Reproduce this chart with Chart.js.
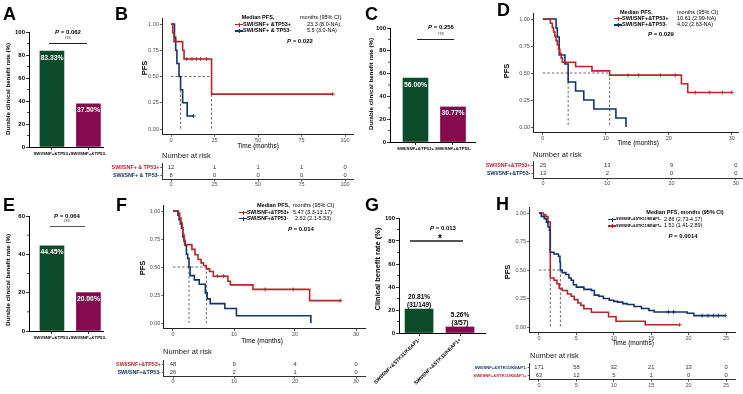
<!DOCTYPE html>
<html>
<head>
<meta charset="utf-8">
<script src="https://cdn.jsdelivr.net/npm/chart.js@4.4.1/dist/chart.umd.min.js"></script>
<style>
  body { margin: 0; background: #fff; }
  #fig { position: relative; width: 743px; height: 394px; overflow: hidden; font-family: "Liberation Sans", Arial, sans-serif; }
</style>
</head>
<body>
<div id="fig"></div>
<script>
'use strict';

// ---- bar panels (A, C, E, G) ----
const tp53Cats = ['SWI/SNF+&TP53+', 'SWI/SNF+&TP53-'];
const aRates = [83.33, 37.50];
const cRates = [56.00, 30.77];
const eRates = [44.45, 20.00];
const stkCats = ['SWI/SNF+&STK11/KEAP1-', 'SWI/SNF+&STK11/KEAP1+'];
const gRates = [20.81, 5.26];
const gCounts = ['(31/149)', '(3/57)'];

// ---- B: KM, time / survival step points ----
const bPosT = [0, 1, 1.7, 6.7, 7.5, 23.3, 93];
const bPosS = [1, 0.917, 0.833, 0.75, 0.667, 0.333, 0.333];
const bPosCens = [9, 12, 14.5, 17, 20.5, 93];
const bNegT = [0, 2.0, 2.7, 3.4, 4.6, 5.5, 6.7, 9.3, 12.9];
const bNegS = [1, 0.875, 0.75, 0.625, 0.5, 0.375, 0.25, 0.125, 0.125];
const bNegCens = [12.9];
const bMedians = [23.3, 5.5];
const bRiskTimes = [0, 25, 50, 75, 100];
const bRiskPos = [12, 1, 1, 1, 0];
const bRiskNeg = [8, 0, 0, 0, 0];

// ---- D ----
const dPosT = [0, 1.2, 1.5, 1.7, 1.9, 2.1, 2.3, 2.5, 2.7, 2.9, 3.1, 5.2, 7.8, 10.61, 22.0, 23.0, 30];
const dPosS = [1, 0.96, 0.92, 0.88, 0.84, 0.80, 0.76, 0.72, 0.68, 0.64, 0.60, 0.56, 0.52, 0.48, 0.40, 0.32, 0.32];
const dPosCens = [13.5, 15.2, 18.7, 21.0, 24.2, 26.5, 28.5, 30];
const dNegT = [0, 2.1, 2.3, 2.6, 3.5, 4.02, 5.2, 6.5, 8.1, 11.6, 13.2];
const dNegS = [1, 0.917, 0.833, 0.667, 0.583, 0.417, 0.333, 0.25, 0.167, 0.083, 0];
const dNegCens = [];
const dMedians = [10.61, 4.02];
const dRiskTimes = [0, 10, 20, 30];
const dRiskPos = [25, 13, 9, 0];
const dRiskNeg = [13, 2, 0, 0];

// ---- F ----
const fPosT = [0, 0.9, 1.1, 1.3, 1.5, 1.6, 1.8, 1.9, 3.1, 3.6, 4.1, 4.6, 5.0, 5.47, 6.0, 6.6, 9.0, 9.4, 13.1, 22.4, 27.6];
const fPosS = [1, 0.979, 0.938, 0.896, 0.854, 0.792, 0.75, 0.70, 0.657, 0.61, 0.567, 0.537, 0.513, 0.483, 0.46, 0.418, 0.373, 0.34, 0.30, 0.20, 0.20];
const fPosCens = [7.3, 8.3, 15.1, 19.7, 27.4];
const fNegT = [0, 0.8, 1.0, 1.2, 1.4, 1.6, 1.8, 2.0, 2.2, 2.4, 2.62, 2.8, 3.5, 4.3, 5.3, 5.6, 6.1, 8.5, 10.4, 22.6];
const fNegS = [1, 0.962, 0.923, 0.885, 0.846, 0.769, 0.731, 0.692, 0.615, 0.577, 0.50, 0.423, 0.385, 0.346, 0.269, 0.215, 0.173, 0.13, 0.065, 0];
const fNegCens = [];
const fMedians = [5.47, 2.62];
const fRiskTimes = [0, 10, 20, 30];
const fRiskPos = [48, 9, 4, 0];
const fRiskNeg = [26, 2, 1, 0];

// ---- H ----
const hNegT = [0, 0.3, 0.7, 1.0, 1.2, 1.4, 1.5, 2.0, 2.6, 2.8, 2.86, 3.1, 3.6, 4.0, 4.3, 4.6, 5.0, 6.0, 7.0, 7.4, 8.0, 8.6, 9.4, 10.0, 10.5, 11.2, 11.8, 12.7, 13.7, 14.7, 15.4, 19.8, 20.7, 24.9];
const hNegS = [1, 0.97, 0.95, 0.92, 0.88, 0.85, 0.656, 0.64, 0.62, 0.57, 0.50, 0.477, 0.46, 0.43, 0.41, 0.37, 0.35, 0.33, 0.32, 0.28, 0.27, 0.25, 0.235, 0.225, 0.218, 0.205, 0.197, 0.18, 0.162, 0.145, 0.132, 0.12, 0.10, 0.10];
const hNegCens = [17.3, 18.0, 21.8, 22.6, 23.3, 24.0, 24.9];
const hPosT = [0, 0.6, 0.9, 1.2, 1.51, 2.0, 2.4, 2.7, 3.1, 3.8, 4.3, 4.7, 5.2, 5.6, 6.0, 7.0, 9.3, 10.3, 14.2, 18.8];
const hPosS = [1, 0.984, 0.968, 0.92, 0.43, 0.41, 0.38, 0.34, 0.32, 0.29, 0.27, 0.24, 0.21, 0.19, 0.16, 0.13, 0.09, 0.05, 0.02, 0.02];
const hPosCens = [18.8];
const hMedians = [2.86, 1.51];
const hRiskTimes = [0, 5, 10, 15, 20, 25];
const hRiskNeg = [171, 58, 32, 21, 13, 0];
const hRiskPos = [63, 12, 5, 1, 0, 0];

const RED = '#b5262b';
const BLUE = '#13336a';
const GREEN = '#0b4a2b';
const MAGENTA = '#85094d';

Chart.defaults.font.family = '"Liberation Sans", Arial, sans-serif';

const fig = document.getElementById('fig');

function el(css, html) {
  const e = document.createElement('div');
  e.style.cssText = 'position:absolute;' + css;
  if (html != null) e.innerHTML = html;
  fig.appendChild(e);
  return e;
}

// y is the text baseline
function txt(x, y, html, o) {
  o = o || {};
  const fs = o.size || 6;
  const ax = o.align === 'center' ? '-50%' : o.align === 'right' ? '-100%' : '0';
  return el(`left:${x}px;top:${y - 0.847 * fs}px;font-size:${fs}px;line-height:1;white-space:nowrap;` +
    `font-weight:${o.bold ? 'bold' : 'normal'};color:${o.color || '#000'};transform:translateX(${ax});`, html);
}

function vtxt(cx, cy, html, o) {
  return el(`left:${cx}px;top:${cy}px;font-size:${o.size}px;line-height:1;white-space:nowrap;` +
    `font-weight:${o.bold ? 'bold' : 'normal'};color:#000;transform:translate(-50%,-50%) rotate(-90deg);`, html);
}

function hline(x1, x2, y, w, color) {
  el(`left:${x1}px;top:${y - w / 2}px;width:${x2 - x1}px;height:${w}px;background:${color};`);
}

function legMark(x, y, color) {
  hline(x, x + 8, y, 1.3, color);
  el(`left:${x + 3.5}px;top:${y - 2}px;width:1px;height:4px;background:${color};`);
}

function addCanvas(b) {
  const w = b.r - b.l, h = b.b - b.t;
  const wrap = el(`left:${b.l}px;top:${b.t}px;width:${w}px;height:${h}px;`);
  const c = document.createElement('canvas');
  c.width = w; c.height = h;
  c.style.width = w + 'px'; c.style.height = h + 'px';
  wrap.appendChild(c);
  return c;
}

function pad(b, a) {
  return { top: a.t - b.t, right: b.r - a.r, left: 0, bottom: 0 };
}

function fixedTicks(vals) {
  return s => { s.ticks = vals.map(v => ({ value: v })); };
}

function survAt(t, s, x) {
  let v = s[0];
  for (let i = 0; i < t.length; i++) if (t[i] <= x) v = s[i];
  return v;
}

const tickGrid = { display: true, drawOnChartArea: false, drawTicks: true, tickLength: 2.5, tickWidth: 0.8, color: '#333' };

// ---------- bar charts ----------
function barChart(box, area, xMin, xMax, cats, vals, yMax, majors, minors, opts) {
  const c = addCanvas(box);
  new Chart(c, {
    type: 'bar',
    data: {
      datasets: [{
        data: vals.map((v, i) => ({ x: i, y: v })),
        backgroundColor: [GREEN, MAGENTA],
        barThickness: opts.thickness
      }]
    },
    options: {
      responsive: false,
      animation: false,
      layout: { padding: pad(box, area) },
      plugins: { legend: { display: false }, tooltip: { enabled: false } },
      scales: {
        x: {
          type: 'linear', min: xMin, max: xMax, offset: false,
          afterBuildTicks: fixedTicks(cats.map((_, i) => i)),
          afterFit: s => { s.height = box.b - area.b; },
          grid: Object.assign({}, tickGrid, { offset: false, color: '#000', tickLength: 3 }),
          border: { display: true, color: '#000', width: 1 },
          ticks: {
            callback: v => cats[v], color: '#000', padding: 1,
            font: { size: opts.catSize, weight: 'bold' },
            minRotation: opts.rot, maxRotation: opts.rot, autoSkip: false
          }
        },
        y: {
          min: 0, max: yMax,
          afterBuildTicks: fixedTicks(majors),
          afterFit: s => { s.width = area.l - box.l; },
          grid: Object.assign({}, tickGrid, { color: '#000', tickLength: 3 }),
          border: { display: true, color: '#000', width: 1 },
          ticks: { color: '#000', padding: 1, font: { size: 6, weight: 'bold' } }
        }
      }
    },
    plugins: [{
      id: 'barLabels',
      afterDatasetsDraw(chart) {
        const ctx = chart.ctx, y = chart.scales.y;
        ctx.save();
        ctx.strokeStyle = '#000';
        ctx.lineWidth = 0.8;
        minors.forEach(v => {
          const py = y.getPixelForValue(v);
          ctx.beginPath(); ctx.moveTo(y.right - 1.8, py); ctx.lineTo(y.right, py); ctx.stroke();
        });
        ctx.textAlign = 'center';
        chart.getDatasetMeta(0).data.forEach((bar, i) => {
          if (opts.inside) {
            ctx.fillStyle = '#fff';
            ctx.font = 'bold 6.8px "Liberation Sans", Arial, sans-serif';
            ctx.fillText(vals[i].toFixed(2) + '%', bar.x, bar.y + 8.5);
          } else {
            ctx.fillStyle = '#000';
            ctx.font = 'bold 6.5px "Liberation Sans", Arial, sans-serif';
            ctx.fillText(vals[i].toFixed(2) + '%', bar.x, bar.y - 10);
            ctx.fillText(gCounts[i], bar.x, bar.y - 2);
          }
        });
        ctx.restore();
      }
    }]
  });
}

// ---------- KM charts ----------
function kmChart(box, area, xMin, xMax, xTicks, groups, medians) {
  const datasets = [];
  groups.forEach(g => {
    datasets.push({
      data: g.t.map((x, i) => ({ x, y: g.s[i] })),
      stepped: true, borderColor: g.color, borderWidth: 1.6, pointRadius: 0, order: 1
    });
    datasets.push({
      data: g.cens.map(x => ({ x, y: survAt(g.t, g.s, x) })),
      showLine: false, pointStyle: 'cross', pointRadius: 2, pointBorderWidth: 0.9,
      borderColor: g.color, backgroundColor: g.color, order: 0
    });
  });
  const md = [{ x: 0, y: 0.5 }, { x: Math.max(...medians), y: 0.5 }];
  medians.forEach(m => md.push({ x: m, y: null }, { x: m, y: 0.5 }, { x: m, y: 0 }));
  datasets.push({ data: md, borderColor: '#444', borderWidth: 0.8, borderDash: [2.5, 2], pointRadius: 0, order: 2 });

  new Chart(addCanvas(box), {
    type: 'line',
    data: { datasets },
    options: {
      responsive: false,
      animation: false,
      layout: { padding: pad(box, area) },
      plugins: { legend: { display: false }, tooltip: { enabled: false } },
      scales: {
        x: {
          type: 'linear', min: xMin, max: xMax,
          afterBuildTicks: fixedTicks(xTicks),
          afterFit: s => { s.height = box.b - area.b; },
          grid: tickGrid,
          border: { display: true, color: '#222', width: 1 },
          ticks: { color: '#4d4d4d', padding: 0, maxRotation: 0, font: { size: 5.5 }, callback: v => String(v) }
        },
        y: {
          type: 'linear', min: -0.05, max: 1.05,
          afterBuildTicks: fixedTicks([0, 0.25, 0.5, 0.75, 1]),
          afterFit: s => { s.width = area.l - box.l; },
          grid: tickGrid,
          border: { display: true, color: '#222', width: 1 },
          ticks: { color: '#4d4d4d', padding: 1, font: { size: 5.5 }, callback: v => v.toFixed(2) }
        }
      }
    }
  });
}

// risk table: rows on a reversed linear y axis (row 0 on top)
function riskChart(box, area, xMin, xMax, times, rows, labelSize) {
  new Chart(addCanvas(box), {
    type: 'line',
    data: { datasets: [] },
    options: {
      responsive: false,
      animation: false,
      layout: { padding: pad(box, area) },
      plugins: { legend: { display: false }, tooltip: { enabled: false } },
      scales: {
        x: {
          type: 'linear', min: xMin, max: xMax,
          afterBuildTicks: fixedTicks(times),
          afterFit: s => { s.height = box.b - area.b; },
          grid: Object.assign({}, tickGrid, { tickLength: 2 }),
          border: { display: true, color: '#333', width: 1 },
          ticks: { color: '#4d4d4d', padding: 0, maxRotation: 0, font: { size: 5.5 }, callback: v => String(v) }
        },
        y: {
          type: 'linear', min: -0.5, max: rows.length - 0.5, reverse: true,
          afterBuildTicks: fixedTicks(rows.map((_, i) => i)),
          afterFit: s => { s.width = area.l - box.l; },
          grid: Object.assign({}, tickGrid, { tickLength: 2 }),
          border: { display: true, color: '#333', width: 1 },
          ticks: {
            padding: 1, callback: v => rows[v].label,
            color: c => rows[c.index].color, font: { size: labelSize, weight: 'bold' }
          }
        }
      }
    },
    plugins: [{
      id: 'riskNumbers',
      afterDraw(chart) {
        const { ctx, scales: { x, y } } = chart;
        ctx.save();
        ctx.fillStyle = '#333';
        ctx.font = '5.8px "Liberation Sans", Arial, sans-serif';
        ctx.textAlign = 'center';
        ctx.textBaseline = 'middle';
        rows.forEach((r, i) => r.counts.forEach((n, j) => {
          ctx.fillText(String(n), x.getPixelForValue(times[j]), y.getPixelForValue(i));
        }));
        ctx.restore();
      }
    }]
  });
}

// ---------- A ----------
barChart({ l: 8, t: 20, r: 112, b: 166 }, { l: 29, t: 32, r: 103, b: 147 }, -0.63, 1.4,
  tp53Cats, aRates, 100, [0, 20, 40, 60, 80, 100], [10, 30, 50, 70, 90],
  { thickness: 24, catSize: 4.4, rot: 0, inside: true });
txt(3, 20, 'A', { size: 18, bold: true });
vtxt(8, 89, 'Durable clinical benefit rate (%)', { size: 6.2, bold: true });
txt(68, 34, '<i>P</i> = 0.062', { size: 6, bold: true, align: 'center' });
txt(68, 39.5, 'ns', { size: 5, align: 'center', color: '#444' });
hline(49, 87, 43, 0.9, '#222');

// ---------- C ----------
barChart({ l: 372, t: 16, r: 490, b: 162 }, { l: 390, t: 28, r: 475, b: 142 }, -0.68, 1.587,
  tp53Cats, cRates, 100, [0, 20, 40, 60, 80, 100], [10, 30, 50, 70, 90],
  { thickness: 25, catSize: 4.4, rot: 0, inside: true });
txt(365, 20, 'C', { size: 18, bold: true });
vtxt(371, 84, 'Durable clinical benefit rate (%)', { size: 6.2, bold: true });
txt(441, 29.5, '<i>P</i> = 0.256', { size: 6, bold: true, align: 'center' });
txt(441, 35, 'ns', { size: 5, align: 'center', color: '#444' });
hline(417, 454, 39, 0.9, '#222');

// ---------- E ----------
barChart({ l: 8, t: 205, r: 112, b: 350 }, { l: 29, t: 216, r: 103, b: 331 }, -0.63, 1.4,
  tp53Cats, eRates, 60, [0, 20, 40, 60], [10, 30, 50],
  { thickness: 24, catSize: 4.4, rot: 0, inside: true });
txt(3, 211, 'E', { size: 18, bold: true });
vtxt(8, 280, 'Durable clinical benefit rate (%)', { size: 6.2, bold: true });
txt(67, 218, '<i>P</i> = 0.064', { size: 6, bold: true, align: 'center' });
txt(67, 222, 'ns', { size: 5, align: 'center', color: '#444' });
hline(50, 85, 226, 0.9, '#555');

// ---------- G ----------
barChart({ l: 355, t: 210, r: 500, b: 394 }, { l: 399, t: 218, r: 485, b: 333 }, -0.49, 1.61,
  stkCats, gRates, 100, [0, 20, 40, 60, 80, 100], [10, 30, 50, 70, 90],
  { thickness: 28, catSize: 5, rot: 45, inside: false });
txt(365, 211, 'G', { size: 18, bold: true });
vtxt(378, 269, 'Clinical benefit rate (%)', { size: 7.5, bold: true });
txt(443, 230, '<i>P</i> = 0.013', { size: 6, bold: true, align: 'center' });
txt(440, 242, '*', { size: 10, bold: true, align: 'center' });
hline(410, 463, 241, 1.2, '#555');

// ---------- B ----------
const bArea = { l: 162.3, t: 18.8, r: 353.7, b: 134.3 };
kmChart({ l: 128, t: 10, r: 362, b: 152 }, bArea, -5, 105, bRiskTimes, [
  { t: bPosT, s: bPosS, cens: bPosCens, color: RED },
  { t: bNegT, s: bNegS, cens: bNegCens, color: BLUE }
], bMedians);
riskChart({ l: 95, t: 159, r: 362, b: 192 }, { l: bArea.l, t: 162.5, r: bArea.r, b: 179.5 }, -5, 105, bRiskTimes, [
  { label: 'SWI/SNF+ & TP53+', color: RED, counts: bRiskPos },
  { label: 'SWI/SNF+ & TP53-', color: BLUE, counts: bRiskNeg }
], 5.3);
txt(115, 20, 'B', { size: 18, bold: true });
vtxt(145, 68, 'PFS', { size: 7.5, bold: true });
txt(258, 148.5, 'Time (months)', { size: 6.5, align: 'center' });
txt(162, 158, 'Number at risk', { size: 7.5, color: '#222' });
txt(258, 20, 'Median PFS,', { size: 5.5, bold: true, align: 'center' });
txt(300, 20, 'months (95% CI)', { size: 5.5 });
legMark(235, 24.5, RED);
txt(243, 26.5, 'SWI/SNF+ &amp;TP53+', { size: 5.5, bold: true });
txt(307, 26.5, '23.3 (8.0-NA)', { size: 5.5 });
legMark(235, 31, BLUE);
txt(243, 33, 'SWI/SNF+ &amp; TP53-', { size: 5.5, bold: true });
txt(307, 33, '5.5 (3.0-NA)', { size: 5.5 });
txt(287, 43, '<i>P</i> = 0.022', { size: 6, bold: true });

// ---------- D ----------
const dArea = { l: 533.4, t: 13.6, r: 742.3, b: 132.4 };
kmChart({ l: 500, t: 5, r: 743, b: 150 }, dArea, -1.5, 31, dRiskTimes, [
  { t: dPosT, s: dPosS, cens: dPosCens, color: RED },
  { t: dNegT, s: dNegS, cens: dNegCens, color: BLUE }
], dMedians);
riskChart({ l: 465, t: 157, r: 743, b: 192 }, { l: dArea.l, t: 159.5, r: dArea.r, b: 178 }, -1.5, 31, dRiskTimes, [
  { label: 'SWI/SNF+&TP53+', color: RED, counts: dRiskPos },
  { label: 'SWI/SNF+&TP53-', color: BLUE, counts: dRiskNeg }
], 5.3);
txt(497, 16, 'D', { size: 18, bold: true });
vtxt(507, 71, 'PFS', { size: 7.5, bold: true });
txt(638, 145.5, 'Time (months)', { size: 6.5, align: 'center' });
txt(533, 157, 'Number at risk', { size: 7.5, color: '#222' });
txt(620, 15, 'Median PFS,', { size: 5.5, bold: true });
txt(677, 15, 'months (95% CI)', { size: 5.5 });
legMark(614, 18.5, RED);
txt(622, 20.5, 'SWI/SNF+&amp;TP53+', { size: 5.5, bold: true });
txt(677, 20.5, '10.61 (2.99-NA)', { size: 5.5 });
legMark(614, 25, BLUE);
txt(622, 27, 'SWI/SNF+&amp;TP53-', { size: 5.5, bold: true });
txt(677, 27, '4.02 (2.63-NA)', { size: 5.5 });
txt(648, 36.5, '<i>P</i> = 0.029', { size: 6, bold: true });

// ---------- F ----------
const fArea = { l: 163.85, t: 205.4, r: 365.15, b: 328.6 };
kmChart({ l: 128, t: 198, r: 372, b: 346 }, fArea, -1.5, 31.5, fRiskTimes, [
  { t: fPosT, s: fPosS, cens: fPosCens, color: RED },
  { t: fNegT, s: fNegS, cens: fNegCens, color: BLUE }
], fMedians);
riskChart({ l: 95, t: 356, r: 372, b: 390 }, { l: fArea.l, t: 358.5, r: fArea.r, b: 376.5 }, -1.5, 31.5, fRiskTimes, [
  { label: 'SWI/SNF+&TP53+', color: RED, counts: fRiskPos },
  { label: 'SWI/SNF+&TP53-', color: BLUE, counts: fRiskNeg }
], 5.3);
txt(116, 211, 'F', { size: 18, bold: true });
vtxt(143, 268, 'PFS', { size: 7.5, bold: true });
txt(262, 343.5, 'Time (months)', { size: 6.5, align: 'center' });
txt(163, 354, 'Number at risk', { size: 7.5, color: '#222' });
txt(257, 207.5, 'Median PFS,', { size: 5.5, bold: true });
txt(293, 207.5, 'months (95% CI)', { size: 5.5 });
legMark(239, 212.5, RED);
txt(247, 214.5, 'SWI/SNF+&amp;TP53+', { size: 5, bold: true });
txt(293, 214.5, '5.47 (3.3-13.17)', { size: 5.5 });
legMark(239, 218.5, BLUE);
txt(247, 220.5, 'SWI/SNF+&amp;TP53-', { size: 5, bold: true });
txt(295, 220.5, '2.62 (2.1-5.53)', { size: 5.5 });
txt(288, 231, '<i>P</i> = 0.014', { size: 6, bold: true });

// ---------- H ----------
const hArea = { l: 529.65, t: 207.3, r: 735.35, b: 332.7 };
kmChart({ l: 500, t: 200, r: 743, b: 350 }, hArea, -1.25, 26.25, hRiskTimes, [
  { t: hNegT, s: hNegS, cens: hNegCens, color: BLUE },
  { t: hPosT, s: hPosS, cens: hPosCens, color: RED }
], hMedians);
riskChart({ l: 465, t: 360, r: 743, b: 394 }, { l: hArea.l, t: 362.75, r: hArea.r, b: 379.75 }, -1.25, 26.25, hRiskTimes, [
  { label: 'SWI/SNF+&STK11/KEAP1-', color: BLUE, counts: hRiskNeg },
  { label: 'SWI/SNF+&STK11/KEAP1+', color: RED, counts: hRiskPos }
], 4.2);
txt(496, 210, 'H', { size: 18, bold: true });
vtxt(508, 272, 'PFS', { size: 7.5, bold: true });
txt(633, 345.5, 'Time (months)', { size: 6.5, align: 'center' });
txt(530, 358, 'Number at risk', { size: 7.5, color: '#222' });
txt(685, 215, 'Median PFS, months (95% CI)', { size: 5.5, bold: true, align: 'center' });
legMark(608, 219.5, BLUE);
txt(616, 221.5, 'SWI/SNF+&amp;STK11/KEAP1-', { size: 3.6, bold: true });
txt(664, 221.5, '2.86 (2.73-4.17)', { size: 5.4 });
legMark(608, 226, RED);
txt(616, 228, 'SWI/SNF+&amp;STK11/KEAP1+', { size: 3.6, bold: true });
txt(664, 228, '1.51 (1.41-2.89)', { size: 5.4 });
txt(683, 238, '<i>P</i> = 0.0014', { size: 6, bold: true, align: 'center' });
</script>
</body>
</html>
